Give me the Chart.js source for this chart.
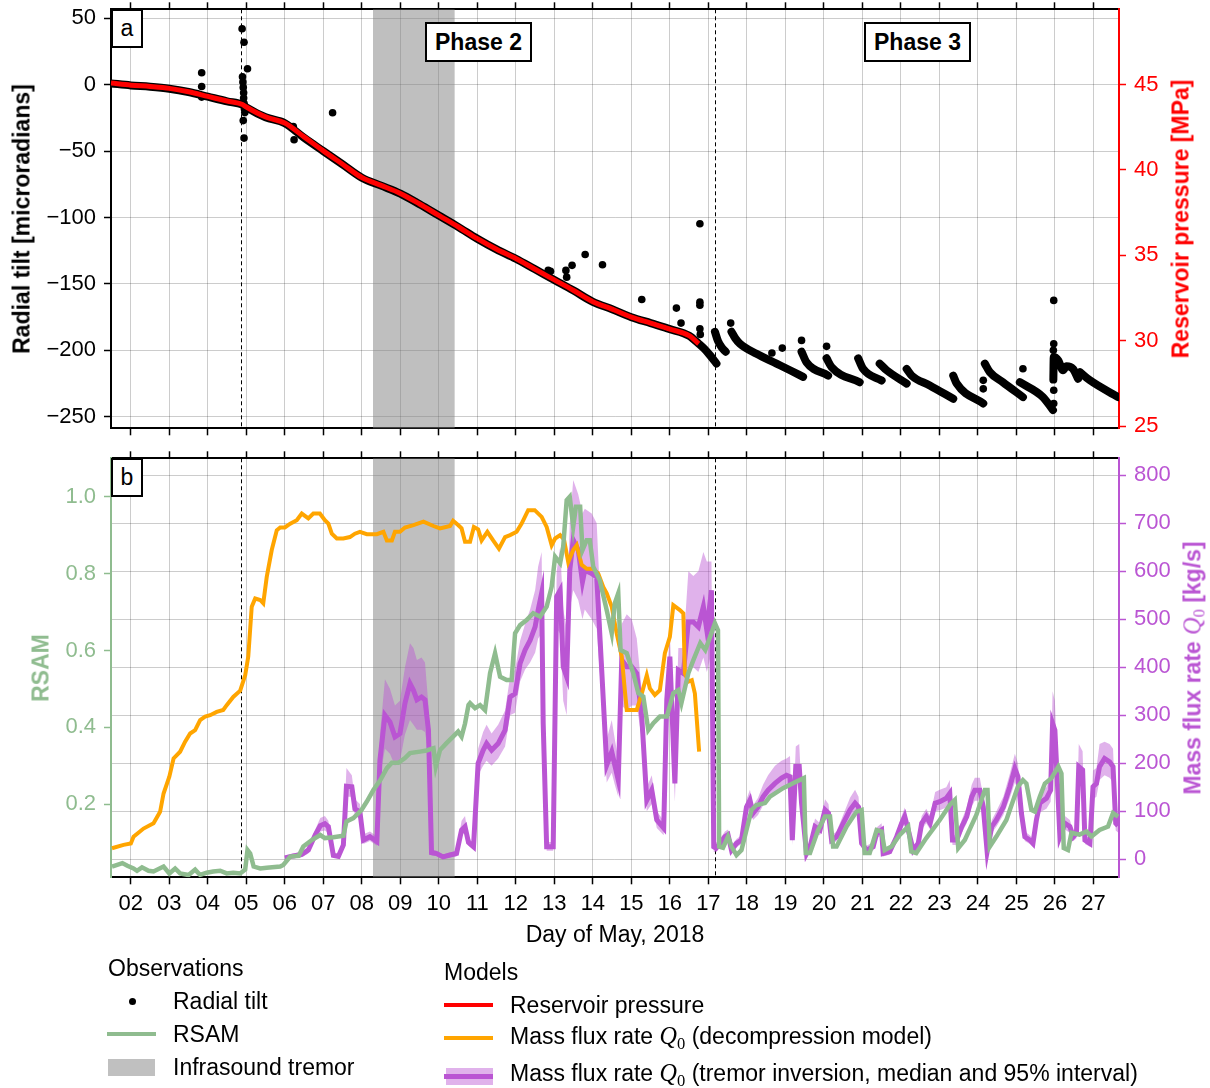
<!DOCTYPE html>
<html><head><meta charset="utf-8">
<script src="https://cdn.jsdelivr.net/npm/chart.js@4/dist/chart.umd.min.js"></script>
<style>
body{margin:0;background:#fff;width:1210px;height:1088px;position:relative;overflow:hidden;font-family:"Liberation Sans",Arial,sans-serif;color:#000;}
canvas{position:absolute;left:0;}
#c1{top:0;}
#c2{top:440px;}
.t{position:absolute;white-space:nowrap;}
.box{position:absolute;background:#fff;border:2px solid #000;box-sizing:border-box;display:flex;align-items:center;justify-content:center;font-size:23px;}
.rot{position:absolute;white-space:nowrap;transform:translate(-50%,-50%) rotate(-90deg);font-weight:bold;font-size:23px;}
.q{font-family:"Liberation Serif","DejaVu Serif",serif;font-style:italic;font-weight:normal;font-size:1.05em;}
.q0{font-family:"Liberation Serif","DejaVu Serif",serif;font-weight:normal;font-size:0.72em;vertical-align:-0.25em;}
.leg{position:absolute;white-space:nowrap;font-size:23px;transform:translateY(-50%);}
</style></head>
<body>
<canvas id="c1" width="1210" height="440"></canvas>
<canvas id="c2" width="1210" height="520"></canvas>

<div class="box" style="left:111px;top:9px;width:32px;height:39px;">a</div>
<div class="box" style="left:111px;top:458px;width:32px;height:39px;">b</div>
<div class="box" style="left:425px;top:22px;width:107px;height:40px;font-weight:bold;">Phase 2</div>
<div class="box" style="left:864px;top:22px;width:107px;height:40px;font-weight:bold;">Phase 3</div>

<div class="rot" style="left:22px;top:219px;">Radial tilt [microradians]</div>
<div class="rot" style="left:1181px;top:219px;color:#ff0000;">Reservoir pressure [MPa]</div>
<div class="rot" style="left:41px;top:668px;color:#8fbc8f;">RSAM</div>
<div class="rot" style="left:1194px;top:668px;color:#ba55d3;">Mass flux rate <span class="q">Q</span><span class="q0">0</span> [kg/s]</div>
<div class="t" style="left:615px;top:934px;transform:translate(-50%,-50%);font-size:23px;">Day of May, 2018</div>

<!-- legend -->
<div class="leg" style="left:108px;top:968px;">Observations</div>
<div style="position:absolute;left:129px;top:998px;width:7px;height:7px;border-radius:50%;background:#000;"></div>
<div class="leg" style="left:173px;top:1001px;">Radial tilt</div>
<div style="position:absolute;left:107px;top:1032px;width:49px;height:4px;background:#8fbc8f;"></div>
<div class="leg" style="left:173px;top:1034px;">RSAM</div>
<div style="position:absolute;left:108px;top:1059px;width:47px;height:17px;background:#c0c0c0;"></div>
<div class="leg" style="left:173px;top:1067px;">Infrasound tremor</div>

<div class="leg" style="left:444px;top:972px;">Models</div>
<div style="position:absolute;left:444px;top:1003px;width:49px;height:4px;background:#ff0000;"></div>
<div class="leg" style="left:510px;top:1005px;">Reservoir pressure</div>
<div style="position:absolute;left:444px;top:1036px;width:49px;height:4px;background:#ffa500;"></div>
<div class="leg" style="left:510px;top:1038px;">Mass flux rate <span class="q">Q</span><span class="q0">0</span> (decompression model)</div>
<div style="position:absolute;left:446px;top:1068px;width:47px;height:17px;background:rgba(186,85,211,0.45);"></div>
<div style="position:absolute;left:444px;top:1074px;width:49px;height:5px;background:#ba55d3;"></div>
<div class="leg" style="left:510px;top:1075px;">Mass flux rate <span class="q">Q</span><span class="q0">0</span> (tremor inversion, median and 95% interval)</div>

<script>
// ---------------- DATA ----------------
const dayTicks = [2,3,4,5,6,7,8,9,10,11,12,13,14,15,16,17,18,19,20,21,22,23,24,25,26,27];
const tiltTicks = [-250,-200,-150,-100,-50,0,50];
const presTicks = [25,30,35,40,45];
const rsamTicks = [0.2,0.4,0.6,0.8,1.0];
const fluxTicks = [0,100,200,300,400,500,600,700,800];

const tremorStart = 8.29, tremorEnd = 10.41;
const eventDays = [4.87, 17.18];

// reservoir pressure (MPa)
const presDays = [1.485,2,2.5,3,3.5,4,4.5,4.9,5,5.5,6,6.5,7,7.5,8,8.5,9,9.5,10,10.5,11,11.5,12,12.5,13,13.5,14,14.5,15,15.5,16,16.5,16.75];
const presVals = [45.08,44.96,44.88,44.77,44.57,44.30,44.03,43.83,43.68,43.10,42.74,41.93,41.11,40.33,39.55,39.09,38.62,38.0,37.33,36.67,35.97,35.35,34.81,34.18,33.56,32.94,32.28,31.85,31.38,31.03,30.68,30.29,29.82];

// radial tilt (microradians), dense trend, null = gap between segments
const tiltDays = [1.485,2,2.5,3,3.5,4,4.5,4.9,5,5.5,6,6.5,7,7.5,8,8.5,9,9.5,10,10.5,11,11.5,12,12.5,13,13.5,14,14.5,15,15.5,16,16.5,16.75,16.9,17.05,17.21,17.21,
  17.17,17.25,17.35,17.45,17.45,
  17.60,17.70,17.82,18.25,18.77,19.12,19.46,19.46,
  19.42,19.55,20.11,20.11,
  20.07,20.20,20.93,20.93,
  20.89,21.02,21.50,21.50,
  21.45,21.63,22.15,22.15,
  22.15,22.28,22.75,23.36,23.36,
  23.36,23.45,24.14,24.14,
  24.18,24.31,24.65,25.17,25.17,
  25.09,25.69,25.95,25.95,
  25.96,25.97,26.09,26.21,26.30,26.47,26.60,26.60,
  26.65,26.91,27.64];
const tiltVals = [1,-0.5,-1.5,-3,-5.5,-9,-12.5,-15,-17,-24.5,-29,-40,-50,-60,-70,-76,-82,-90,-98.5,-107,-116,-124,-131,-139,-147,-155,-163.5,-169,-175,-179.5,-184,-189,-195,-199,-204,-210,null,
  -186,-193,-198,-201,null,
  -186,-191,-195,-202.6,-210,-215,-220,null,
  -201,-209,-219,null,
  -206,-212.6,-224,null,
  -206,-214,-222.7,null,
  -210,-215,-225,null,
  -214,-219,-226.4,-236.5,null,
  -219,-225,-240,null,
  -210,-216.4,-224,-235.2,null,
  -224,-235.2,-245,null,
  -222,-205,-207.6,-215,-212,-214,-221.4,null,
  -216.4,-222.6,-235.2];

// isolated tilt samples
const outDays = [3.84,3.84,3.84,4.89,4.94,5.03,4.90,4.91,4.92,4.93,4.93,4.94,4.95,4.96,4.92,4.94,6.22,6.24,7.24,12.84,12.90,13.30,13.32,13.46,13.80,14.25,15.27,16.17,16.29,16.78,16.78,16.78,16.78,16.79,17.58,18.65,18.92,19.42,20.07,24.14,24.14,25.17,25.97,25.97,25.96,25.97,25.97];
const outVals = [9,-1.3,-9.3,42.2,32,12,6,2,-2,-6,-10,-14,-18,-21,-27,-40.2,-31.4,-41.4,-21.1,-139.8,-140.5,-139.8,-144.9,-136,-127.8,-135.5,-161.7,-168.2,-179.5,-104.7,-163.7,-166,-183.7,-188,-179.5,-202,-198.3,-192.5,-197,-222.6,-229,-213.9,-162.4,-195,-200,-230,-240];

// RSAM (normalised)
const rsamDays = [1.51,1.78,1.91,2.07,2.16,2.29,2.46,2.59,2.85,3.0,3.15,3.28,3.50,3.67,3.80,3.97,4.14,4.32,4.49,4.66,4.84,4.97,5.03,5.10,5.19,5.36,5.53,5.88,5.96,6.14,6.36,6.48,6.70,6.92,7.04,7.26,7.52,7.60,7.78,7.99,8.13,8.30,8.48,8.65,8.78,8.95,9.12,9.25,9.51,9.68,9.86,9.92,10.03,10.2,10.37,10.5,10.59,10.68,10.77,10.81,10.94,11.07,11.2,11.33,11.46,11.59,11.76,11.89,11.98,12.11,12.28,12.45,12.63,12.80,12.93,13.02,13.15,13.23,13.32,13.40,13.49,13.56,13.67,13.73,13.84,13.92,14.01,14.18,14.36,14.49,14.57,14.66,14.72,14.88,15.05,15.18,15.31,15.44,15.57,15.74,15.92,16.09,16.22,16.30,16.48,16.61,16.79,16.92,17.08,17.17,17.25,17.28,17.38,17.51,17.60,17.73,17.86,17.99,18.12,18.25,18.47,18.60,18.94,19.29,19.48,19.53,19.64,19.85,20.03,20.16,20.24,20.33,20.59,20.85,20.98,21.06,21.19,21.37,21.50,21.58,21.76,21.97,22.19,22.27,22.40,22.66,23.01,23.27,23.40,23.49,23.66,23.96,24.18,24.25,24.31,24.48,24.74,25.04,25.17,25.26,25.39,25.48,25.61,25.74,25.91,26.09,26.17,26.23,26.34,26.43,26.64,26.82,26.95,27.16,27.38,27.51,27.64];
const rsamVals = [0.038,0.047,0.04,0.033,0.027,0.036,0.027,0.025,0.038,0.02,0.033,0.02,0.016,0.03,0.016,0.022,0.025,0.027,0.02,0.022,0.02,0.03,0.081,0.072,0.038,0.033,0.035,0.038,0.042,0.064,0.066,0.09,0.107,0.12,0.112,0.114,0.118,0.155,0.164,0.185,0.207,0.237,0.263,0.294,0.308,0.308,0.32,0.333,0.337,0.34,0.346,0.298,0.341,0.359,0.376,0.389,0.376,0.41,0.458,0.463,0.45,0.458,0.445,0.541,0.593,0.532,0.523,0.523,0.645,0.666,0.679,0.697,0.688,0.714,0.766,0.844,0.827,0.87,0.991,1.0,0.922,0.974,0.974,0.861,0.887,0.887,0.818,0.783,0.705,0.645,0.723,0.749,0.601,0.593,0.541,0.489,0.48,0.393,0.411,0.428,0.428,0.489,0.497,0.463,0.541,0.575,0.619,0.601,0.645,0.671,0.653,0.09,0.087,0.116,0.09,0.068,0.081,0.133,0.185,0.198,0.203,0.22,0.242,0.259,0.268,0.073,0.073,0.133,0.168,0.168,0.09,0.09,0.142,0.181,0.185,0.073,0.073,0.133,0.129,0.081,0.09,0.12,0.142,0.077,0.073,0.112,0.159,0.198,0.211,0.086,0.107,0.172,0.237,0.237,0.09,0.116,0.159,0.246,0.263,0.254,0.185,0.181,0.22,0.254,0.268,0.298,0.28,0.086,0.081,0.126,0.121,0.129,0.116,0.133,0.142,0.177,0.168];

// Mass flux rate, decompression model (kg/s)
const decoDays = [1.51,1.81,2.0,2.07,2.33,2.59,2.76,2.85,3.0,3.11,3.28,3.41,3.54,3.67,3.80,3.93,4.06,4.23,4.40,4.49,4.66,4.84,4.97,5.05,5.14,5.23,5.36,5.44,5.53,5.66,5.79,5.88,6.0,6.14,6.31,6.44,6.61,6.74,6.91,7.04,7.13,7.22,7.35,7.52,7.69,7.82,7.95,8.13,8.39,8.56,8.65,8.78,8.86,8.99,9.12,9.34,9.6,9.86,10.03,10.29,10.37,10.5,10.59,10.68,10.81,10.91,11.02,11.11,11.26,11.41,11.56,11.72,11.85,12.02,12.15,12.32,12.49,12.67,12.80,12.93,13.02,13.15,13.25,13.36,13.49,13.58,13.71,13.84,14.01,14.14,14.27,14.36,14.49,14.62,14.75,14.83,14.88,15.14,15.27,15.40,15.48,15.61,15.74,15.87,16.0,16.09,16.26,16.35,16.39,16.48,16.57,16.65,16.76];
const decoVals = [23,30,33,47,64,75,99,137,172,210,224,245,262,269,290,297,300,307,311,321,338,351,383,422,526,543,540,533,588,644,685,691,691,699,706,720,710,720,720,706,699,678,668,668,671,678,682,677,677,682,664,664,682,682,691,696,703,694,689,694,705,696,689,661,661,692,687,664,682,664,647,671,675,682,699,727,727,713,692,654,668,675,666,619,644,654,613,605,605,595,567,554,526,470,422,352,311,311,345,383,356,342,352,429,463,529,519,512,387,370,373,345,224];

// Mass flux rate, tremor inversion: median and 95% interval (kg/s)
const qDays = [6.00,6.22,6.44,6.61,6.79,6.92,7.04,7.13,7.26,7.39,
  7.52,7.60,7.74,7.82,7.95,8.04,8.21,8.39,8.47,8.60,
  8.73,8.86,8.99,9.12,9.25,9.34,9.43,9.55,9.64,9.73,
  9.81,9.94,10.11,10.29,10.46,10.59,10.68,10.77,10.90,11.02,
  11.15,11.24,11.37,11.54,11.72,11.85,11.98,12.11,12.24,12.37,
  12.50,12.58,12.67,12.71,12.80,12.97,13.06,13.15,13.23,13.32,
  13.40,13.49,13.62,13.73,13.79,13.97,14.10,14.23,14.36,14.49,
  14.57,14.66,14.75,14.88,15.01,15.14,15.27,15.40,15.53,15.66,
  15.84,15.92,16.00,16.13,16.22,16.35,16.48,16.61,16.74,16.87,
  16.96,17.08,17.14,17.20,17.30,17.43,17.51,17.60,17.73,17.86,
  17.99,18.08,18.16,18.29,18.42,18.55,18.73,18.90,19.03,19.12,
  19.18,19.27,19.36,19.42,19.55,19.64,19.77,19.90,20.03,20.12,
  20.20,20.33,20.50,20.68,20.81,20.90,20.98,21.11,21.28,21.37,
  21.50,21.54,21.71,21.89,22.02,22.10,22.19,22.32,22.45,22.54,
  22.66,22.76,22.89,23.01,23.18,23.27,23.34,23.45,23.58,23.71,
  23.84,23.92,24.05,24.14,24.24,24.36,24.48,24.66,24.83,24.96,
  25.04,25.13,25.22,25.35,25.43,25.52,25.61,25.78,25.89,25.94,
  26.00,26.09,26.13,26.26,26.39,26.48,26.56,26.62,26.72,26.78,
  26.91,26.99,27.08,27.16,27.29,27.42,27.51,27.58,27.64];
const qMed = [3,7,10,19,51,70,74,68,8,6,
  30,152,151,105,99,40,47,37,207,300,
  286,255,262,325,366,352,332,338,332,269,
  14,12,5,9,12,61,68,35,26,200,
  227,241,227,241,269,338,345,408,436,456,
  484,519,554,283,26,26,547,560,401,380,
  602,665,644,578,602,595,588,394,196,224,
  196,165,415,401,401,387,297,123,144,82,
  65,332,422,158,394,387,494,494,484,526,
  477,560,26,23,33,47,51,19,33,40,
  109,123,96,109,130,144,158,169,175,172,
  40,193,193,117,12,26,68,61,103,96,
  40,47,75,103,117,109,33,19,26,54,
  61,12,16,47,75,89,61,19,33,75,
  89,75,117,120,127,137,40,40,68,89,
  130,144,144,109,16,68,82,109,151,189,
  172,96,47,40,33,82,117,127,144,283,
  269,117,47,75,68,47,54,193,186,40,
  33,151,158,193,210,203,193,75,70];
const qLo = [0,2,4,12,40,58,60,55,3,2,
  22,130,130,90,85,32,38,28,170,230,
  220,195,205,260,290,280,270,270,265,220,
  8,7,1,4,6,50,55,28,20,175,
  195,205,195,210,235,300,305,370,395,410,
  430,460,470,240,18,18,480,470,330,300,
  520,560,540,500,520,500,480,330,160,180,
  155,130,320,310,320,320,250,100,115,65,
  50,280,360,120,340,330,400,400,390,420,
  390,430,15,15,25,38,42,12,25,32,
  95,105,82,92,112,125,140,150,155,150,
  30,165,165,100,6,18,55,50,85,80,
  30,38,62,85,95,90,25,12,18,44,
  50,6,10,38,62,75,50,12,25,62,
  75,62,100,102,108,115,30,30,55,75,
  110,122,122,92,10,55,68,92,128,160,
  145,80,38,32,26,68,98,105,120,230,
  220,95,38,62,55,38,44,160,155,32,
  26,125,130,165,175,170,160,60,56];
const qHi = [8,12,16,27,62,86,90,80,14,12,
  40,190,175,125,115,52,58,48,260,375,
  355,320,330,400,450,440,415,420,410,320,
  20,18,10,14,18,80,90,45,34,230,
  265,280,262,280,310,380,395,455,490,520,
  560,610,640,330,36,36,600,650,520,480,
  700,790,760,720,730,720,700,470,250,290,
  250,210,490,510,500,460,350,150,175,100,
  80,380,470,200,440,440,600,590,600,640,
  620,620,40,35,42,58,62,28,42,50,
  125,145,112,128,155,175,195,205,210,215,
  52,235,240,140,20,35,85,75,125,115,
  50,58,92,128,145,130,42,28,36,66,
  75,20,24,58,90,108,75,28,42,90,
  105,90,140,145,150,165,50,50,82,108,
  155,170,170,130,24,82,100,130,178,220,
  200,115,58,50,42,98,140,150,170,350,
  330,140,58,90,82,58,66,240,225,50,
  42,185,190,240,245,240,230,92,88];

// ---------------- RENDER ----------------
const X_MIN = 1.485, X_MAX = 27.665;
const GRID = 'rgba(0,0,0,0.2)';
const TICKFONT = {family:"'Liberation Sans', Arial, sans-serif", size:22};
const pts = (xs, ys) => xs.map((x,i) => ({x:x, y:ys[i]}));
const minus = v => (v < 0 ? '\u2212' + Math.abs(v) : String(v));
const noPad = s => { s.paddingTop = 0; s.paddingBottom = 0; s.paddingLeft = 0; s.paddingRight = 0; };

function xScale(pos, h, labels, gridOn){
  return {type:'linear', position:pos, min:X_MIN, max:X_MAX,
    afterBuildTicks: s => { s.ticks = dayTicks.map(v => ({value:v})); },
    afterFit: s => { s.height = h; noPad(s); },
    ticks:{display:labels, font:TICKFONT, color:'#000', padding:6, maxRotation:0, autoSkip:false,
      callback: v => String(v).padStart(2,'0')},
    grid:{display:true, drawOnChartArea:gridOn, color:GRID, lineWidth:1, drawTicks:true, tickLength:7, tickColor:'#000', tickWidth:1.5},
    border:{display:true, color:'#000', width:2}};
}
function yScale(pos, min, max, ticksArr, color, fmt, gridOn, width){
  return {type:'linear', position:pos, min:min, max:max,
    afterBuildTicks: s => { s.ticks = ticksArr.map(v => ({value:v})); },
    afterFit: s => { s.width = width; noPad(s); },
    ticks:{font:TICKFONT, color:color, padding:8, callback:fmt},
    grid:{display:true, drawOnChartArea:gridOn, color:GRID, lineWidth:1, drawTicks:true, tickLength:7, tickColor:color, tickWidth:1.5},
    border:{display:true, color:color, width:2}};
}

const backdrop = {
  id:'backdrop',
  beforeDatasetsDraw(chart){
    const {ctx, chartArea:a, scales:{x}} = chart;
    ctx.save();
    ctx.fillStyle = 'rgba(128,128,128,0.5)';
    const x0 = x.getPixelForValue(tremorStart), x1 = x.getPixelForValue(tremorEnd);
    ctx.fillRect(x0, a.top, x1 - x0, a.bottom - a.top);
    ctx.strokeStyle = '#000'; ctx.lineWidth = 1; ctx.setLineDash([4,3]);
    eventDays.forEach(d => {
      const px = Math.round(x.getPixelForValue(d)) + 0.5;
      ctx.beginPath(); ctx.moveTo(px, a.top); ctx.lineTo(px, a.bottom); ctx.stroke();
    });
    ctx.restore();
  }
};

const common = {responsive:false, animation:false, events:[],
  plugins:{legend:{display:false}, tooltip:{enabled:false}}, layout:{padding:0}};

new Chart(document.getElementById('c1'), {
  type:'line',
  data:{datasets:[
    {data:pts(presDays, presVals), yAxisID:'yP', xAxisID:'x', borderColor:'#ff0000', borderWidth:5, pointRadius:0,
      cubicInterpolationMode:'monotone', order:1},
    {data:pts(tiltDays, tiltVals), yAxisID:'yT', xAxisID:'x', borderColor:'#000', borderWidth:8, pointRadius:0,
      cubicInterpolationMode:'monotone', borderCapStyle:'round', borderJoinStyle:'round', spanGaps:false, order:2},
    {data:pts(outDays, outVals), yAxisID:'yT', xAxisID:'x', showLine:false, pointRadius:3.8, pointBorderWidth:0,
      pointBackgroundColor:'#000', order:3}
  ]},
  options:Object.assign({}, common, {
    scales:{
      x: xScale('bottom', 11.7, false, true),
      xT: xScale('top', 9.3, false, false),
      yT: yScale('left', -258.7, 56.8, tiltTicks, '#000', minus, true, 111),
      yP: yScale('right', 24.87, 49.4, presTicks, '#ff0000', v => String(v), false, 91)
    }
  }),
  plugins:[backdrop]
});

new Chart(document.getElementById('c2'), {
  type:'line',
  data:{datasets:[
    {data:pts(rsamDays, rsamVals), yAxisID:'yR', xAxisID:'x', borderColor:'#8fbc8f', borderWidth:4.5, pointRadius:0, tension:0, order:1},
    {data:pts(decoDays, decoVals), yAxisID:'yQ', xAxisID:'x', borderColor:'#ffa500', borderWidth:4, pointRadius:0, tension:0, order:2},
    {data:pts(qDays, qMed), yAxisID:'yQ', xAxisID:'x', borderColor:'#ba55d3', borderWidth:5, pointRadius:0, tension:0, order:3},
    {data:pts(qDays, qLo), yAxisID:'yQ', xAxisID:'x', borderColor:'transparent', borderWidth:0, pointRadius:0, tension:0, fill:false, order:4},
    {data:pts(qDays, qHi), yAxisID:'yQ', xAxisID:'x', borderColor:'transparent', borderWidth:0, pointRadius:0, tension:0,
      fill:'-1', backgroundColor:'rgba(186,85,211,0.45)', order:5}
  ]},
  options:Object.assign({}, common, {
    scales:{
      x: xScale('bottom', 82.7, true, true),
      xT: xScale('top', 18.3, false, false),
      yR: yScale('left', 0.01, 1.1, rsamTicks, '#8fbc8f', v => v.toFixed(1), false, 111),
      yQ: yScale('right', -37.5, 835, fluxTicks, '#ba55d3', v => String(v), true, 91)
    }
  }),
  plugins:[backdrop]
});
</script>
</body></html>
